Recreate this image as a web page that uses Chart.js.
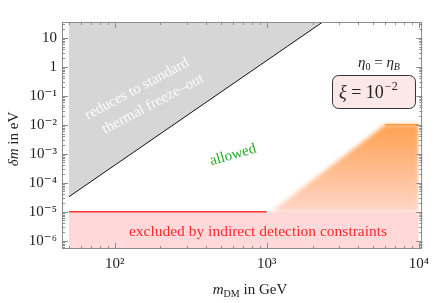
<!DOCTYPE html>
<html>
<head>
<meta charset="utf-8">
<script src="https://cdn.jsdelivr.net/npm/chart.js@4.4.1/dist/chart.umd.min.js"></script>
<style>
  body { margin: 0; background: #fff; }
  #wrap { width: 435px; height: 303px; }
</style>
</head>
<body>
<div id="wrap"><canvas id="plot" width="435" height="303"></canvas></div>
<script>
// tick labels
var xTickValues = [100, 1000, 10000];
var xTickLabels = ['10\u00b2', '10\u00b3', '10\u2074'];
var yTickValues = [1e-6, 1e-5, 1e-4, 1e-3, 1e-2, 1e-1, 1, 10];
var yTickLabels = ['10\u207b\u2076', '10\u207b\u2075', '10\u207b\u2074', '10\u207b\u00b3', '10\u207b\u00b2', '10\u207b\u00b9', '1', '10'];

// thermal freeze-out boundary (gray region above it)
var freezeX = [50, 2333];
var freezeY = [3.3e-5, 35];

// indirect detection bound (pink region below it)
var excludedX = [50, 10000];
var excludedY = [1e-5, 1e-5];
var redLineX = [50, 1000];
var redLineY = [1e-5, 1e-5];

// orange region and its upper edge
var orangeX = [1070, 6000, 10000];
var orangeY = [1e-5, 1e-2, 1e-2];
var orangeTopX = [6000, 10000];
var orangeTopY = [1e-2, 1e-2];

var serif = "'Liberation Serif', 'DejaVu Serif', serif";

function pts(xs, ys) {
    return xs.map(function (x, i) { return { x: x, y: ys[i] }; });
}

function labelFor(values, labels, v) {
    for (var i = 0; i < values.length; i++) {
        if (Math.abs(Math.log10(values[i]) - Math.log10(v)) < 1e-6) return labels[i];
    }
    return '';
}

function minorTicks(min, max) {
    var out = [];
    for (var e = Math.floor(Math.log10(min)); e <= Math.ceil(Math.log10(max)); e++) {
        for (var k = 2; k <= 9; k++) {
            var v = k * Math.pow(10, e);
            if (v > min && v < max) out.push(v);
        }
    }
    return out;
}

function orangeFill(context) {
    var chart = context.chart;
    if (!chart.chartArea) return 'rgba(255,170,100,0.8)';
    var y = chart.scales.y;
    var g = chart.ctx.createLinearGradient(0, y.getPixelForValue(1e-2), 0, y.getPixelForValue(1e-5));
    g.addColorStop(0, 'rgb(255,160,80)');
    g.addColorStop(1, 'rgb(255,214,200)');
    return g;
}

// soft edge for the orange area: the filler draws it right after the pink dataset
var ORANGE = 3, PINK = 4;
var softEdge = {
    id: 'softEdge',
    afterDatasetDraw: function (chart, args) {
        if (args.index === PINK) chart.ctx.filter = 'blur(2px)';
    },
    beforeDatasetDraw: function (chart, args) {
        if (args.index === ORANGE) chart.ctx.filter = 'none';
    }
};

var framePlugin = {
    id: 'frame',
    afterDatasetsDraw: function (chart) {
        var ctx = chart.ctx, a = chart.chartArea;
        var xs = chart.scales.x, ys = chart.scales.y;
        ctx.save();
        ctx.filter = 'none';
        ctx.strokeStyle = '#8c8c8c';
        ctx.lineWidth = 1;
        ctx.strokeRect(Math.round(a.left) + 0.5, Math.round(a.top) + 0.5,
            Math.round(a.right - a.left) - 1, Math.round(a.bottom - a.top) - 1);
        ctx.beginPath();
        function xt(v, len) {
            var p = Math.round(xs.getPixelForValue(v)) + 0.5;
            ctx.moveTo(p, a.bottom); ctx.lineTo(p, a.bottom - len);
            ctx.moveTo(p, a.top); ctx.lineTo(p, a.top + len);
        }
        function yt(v, len) {
            var p = Math.round(ys.getPixelForValue(v)) + 0.5;
            ctx.moveTo(a.left, p); ctx.lineTo(a.left + len, p);
            ctx.moveTo(a.right, p); ctx.lineTo(a.right - len, p);
        }
        xTickValues.forEach(function (v) { xt(v, 6); });
        minorTicks(xs.min, xs.max).forEach(function (v) { xt(v, 3); });
        yTickValues.forEach(function (v) { yt(v, 6); });
        minorTicks(ys.min, ys.max).forEach(function (v) { yt(v, 3); });
        ctx.stroke();
        ctx.restore();
    },
    afterDraw: function (chart) {
        var ctx = chart.ctx;
        ctx.save();
        ctx.filter = 'none';
        ctx.textBaseline = 'alphabetic';

        function rotated(text, x, y, deg, font, color) {
            ctx.save();
            ctx.translate(x, y);
            ctx.rotate(deg * Math.PI / 180);
            ctx.font = font;
            ctx.fillStyle = color;
            ctx.textAlign = 'center';
            ctx.textBaseline = 'middle';
            ctx.fillText(text, 0, 0);
            ctx.restore();
        }

        rotated('reduces to standard', 137, 89, -28, '15px ' + serif, 'rgba(255,255,255,0.9)');
        rotated('thermal freeze\u2013out', 153, 104, -28, '15px ' + serif, 'rgba(255,255,255,0.9)');
        rotated('allowed', 233, 155, -16, '15px ' + serif, '#22aa22');
        rotated('excluded by indirect detection constraints', 258, 232, 0, '15.5px ' + serif, '#ff2a2a');

        // eta_0 = eta_B
        ctx.fillStyle = '#222';
        var x = 358, base = 67;
        ctx.font = 'italic 15px ' + serif; ctx.fillText('\u03b7', x, base); x += ctx.measureText('\u03b7').width;
        ctx.font = '10px ' + serif; ctx.fillText('0', x, base + 3); x += ctx.measureText('0').width;
        ctx.font = '15px ' + serif; ctx.fillText(' = ', x, base); x += ctx.measureText(' = ').width;
        ctx.font = 'italic 15px ' + serif; ctx.fillText('\u03b7', x, base); x += ctx.measureText('\u03b7').width;
        ctx.font = 'italic 10px ' + serif; ctx.fillText('B', x, base + 3);

        // xi box
        ctx.beginPath();
        ctx.roundRect(332.5, 75.5, 83, 33, 6);
        ctx.fillStyle = '#fde8e8';
        ctx.fill();
        ctx.strokeStyle = '#333';
        ctx.lineWidth = 1;
        ctx.stroke();
        ctx.fillStyle = '#222';
        x = 339; base = 98;
        ctx.font = 'italic 18px ' + serif; ctx.fillText('\u03be', x, base); x += ctx.measureText('\u03be').width;
        ctx.font = '18px ' + serif; ctx.fillText(' = 10', x, base); x += ctx.measureText(' = 10').width;
        ctx.font = '12px ' + serif; ctx.fillText('\u22122', x + 1, base - 8);

        // x axis title
        var parts = [['m', 'italic 15px ', 0], ['DM', '10px ', 3], [' in GeV', '15px ', 0]];
        var w = 0;
        parts.forEach(function (p) { ctx.font = p[1] + serif; w += ctx.measureText(p[0]).width; });
        x = 250 - w / 2;
        parts.forEach(function (p) { ctx.font = p[1] + serif; ctx.fillText(p[0], x, 294 + p[2]); x += ctx.measureText(p[0]).width; });

        // y axis title
        ctx.translate(18, 139);
        ctx.rotate(-Math.PI / 2);
        var yparts = [['\u03b4m', 'italic 15px '], [' in eV', '15px ']];
        w = 0;
        yparts.forEach(function (p) { ctx.font = p[1] + serif; w += ctx.measureText(p[0]).width; });
        x = -w / 2;
        yparts.forEach(function (p) { ctx.font = p[1] + serif; ctx.fillText(p[0], x, 0); x += ctx.measureText(p[0]).width; });
        ctx.restore();
    }
};

new Chart(document.getElementById('plot').getContext('2d'), {
    type: 'line',
    data: {
        datasets: [
            {
                data: pts(orangeTopX, orangeTopY),
                borderWidth: 1.5,
                borderColor: '#ff9a3c',
                pointRadius: 0,
                fill: false
            },
            {
                data: pts(redLineX, redLineY),
                borderColor: '#ff3030',
                borderWidth: 1.5,
                pointRadius: 0,
                fill: false
            },
            {
                data: pts(freezeX, freezeY),
                borderColor: '#111',
                borderWidth: 1,
                backgroundColor: '#d6d6d6',
                pointRadius: 0,
                fill: 'end'
            },
            {
                data: pts(orangeX, orangeY),
                borderWidth: 0,
                borderColor: 'rgba(0,0,0,0)',
                backgroundColor: orangeFill,
                pointRadius: 0,
                fill: { value: 1e-5 }
            },
            {
                data: pts(excludedX, excludedY),
                borderColor: 'rgba(255,255,255,0.7)',
                borderWidth: 1,
                backgroundColor: '#ffd9d9',
                pointRadius: 0,
                fill: 'start'
            }
        ]
    },
    options: {
        responsive: false,
        animation: false,
        layout: { padding: { top: 22, right: 9, left: 0, bottom: 0 } },
        plugins: { legend: { display: false }, tooltip: { enabled: false } },
        scales: {
            x: {
                type: 'logarithmic',
                min: 45,
                max: 10550,
                grid: { display: false, drawTicks: false },
                border: { display: false },
                afterBuildTicks: function (s) { s.ticks = xTickValues.map(function (v) { return { value: v }; }); },
                afterFit: function (s) { s.height = 54; },
                ticks: {
                    autoSkip: false, maxRotation: 0, padding: 6, color: '#222',
                    font: { family: serif, size: 15 },
                    callback: function (v) { return labelFor(xTickValues, xTickLabels, v); }
                }
            },
            y: {
                type: 'logarithmic',
                min: 5.2e-7,
                max: 35,
                grid: { display: false, drawTicks: false },
                border: { display: false },
                afterBuildTicks: function (s) { s.ticks = yTickValues.map(function (v) { return { value: v }; }); },
                afterFit: function (s) { s.width = 62; },
                ticks: {
                    autoSkip: false, padding: 5, color: '#222',
                    font: { family: serif, size: 15 },
                    callback: function (v) { return labelFor(yTickValues, yTickLabels, v); }
                }
            }
        }
    },
    plugins: [softEdge, framePlugin]
});
</script>
</body>
</html>
